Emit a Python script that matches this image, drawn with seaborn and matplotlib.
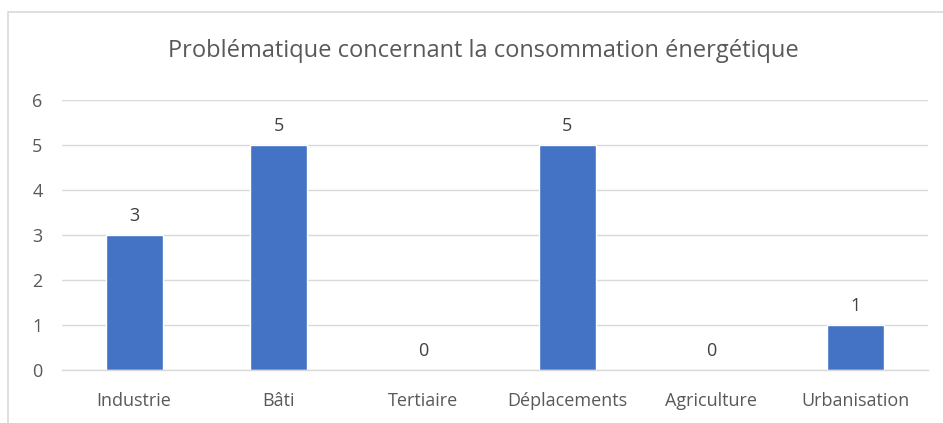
import matplotlib
matplotlib.use("Agg")
import matplotlib.pyplot as plt
import seaborn as sns
import pandas as pd
from matplotlib.patches import Rectangle

categories = ["Industrie", "Bâti", "Tertiaire", "Déplacements", "Agriculture", "Urbanisation"]
values = [3, 5, 0, 5, 0, 1]
yticks = [0, 1, 2, 3, 4, 5, 6]
title = "Problématique concernant la consommation énergétique"

sns.set_theme(style="white")
plt.rcParams['font.family'] = ['Open Sans', 'DejaVu Sans']

W, H = 943, 423
fig = plt.figure(figsize=(W / 100, H / 100), dpi=100)
ax = fig.add_axes([62 / W, 1 - 370 / H, (928 - 62) / W, (370 - 100) / H])

df = pd.DataFrame({"cat": categories, "val": values})
sns.barplot(data=df, x="cat", y="val", color="#4472C4", saturation=1, width=0.395, ax=ax)

ax.set_ylim(0, 6)
ax.set_xlim(-0.5, len(categories) - 0.5)
ax.set_yticks(yticks)
ax.set_yticklabels([str(t) for t in yticks])
ax.yaxis.grid(True, color="#D9D9D9", linewidth=1)
ax.set_axisbelow(True)
for s in ["top", "right", "left"]:
    ax.spines[s].set_visible(False)
ax.spines["bottom"].set_color("#D9D9D9")
ax.spines["bottom"].set_linewidth(1)
ax.tick_params(axis="both", length=0, colors="#595959", labelsize=13)
ax.tick_params(axis="y", pad=14)
ax.tick_params(axis="x", pad=16)
ax.set_xlabel("")
ax.set_ylabel("")

for i, v in enumerate(values):
    ax.annotate(str(v), (i, v), xytext=(0, 7), textcoords="offset points",
                ha="center", va="bottom", fontsize=13, color="#404040")

fig.text(483 / W, 1 - 51 / H, title, ha="center", va="center", fontsize=17, color="#595959")

fig.patches.append(Rectangle((8 / W, -0.1), 1.2, 1 - 12 / H + 0.1, transform=fig.transFigure,
                             fill=False, edgecolor="#D9D9D9", linewidth=1.2))

fig.savefig("out.png", dpi=100)
